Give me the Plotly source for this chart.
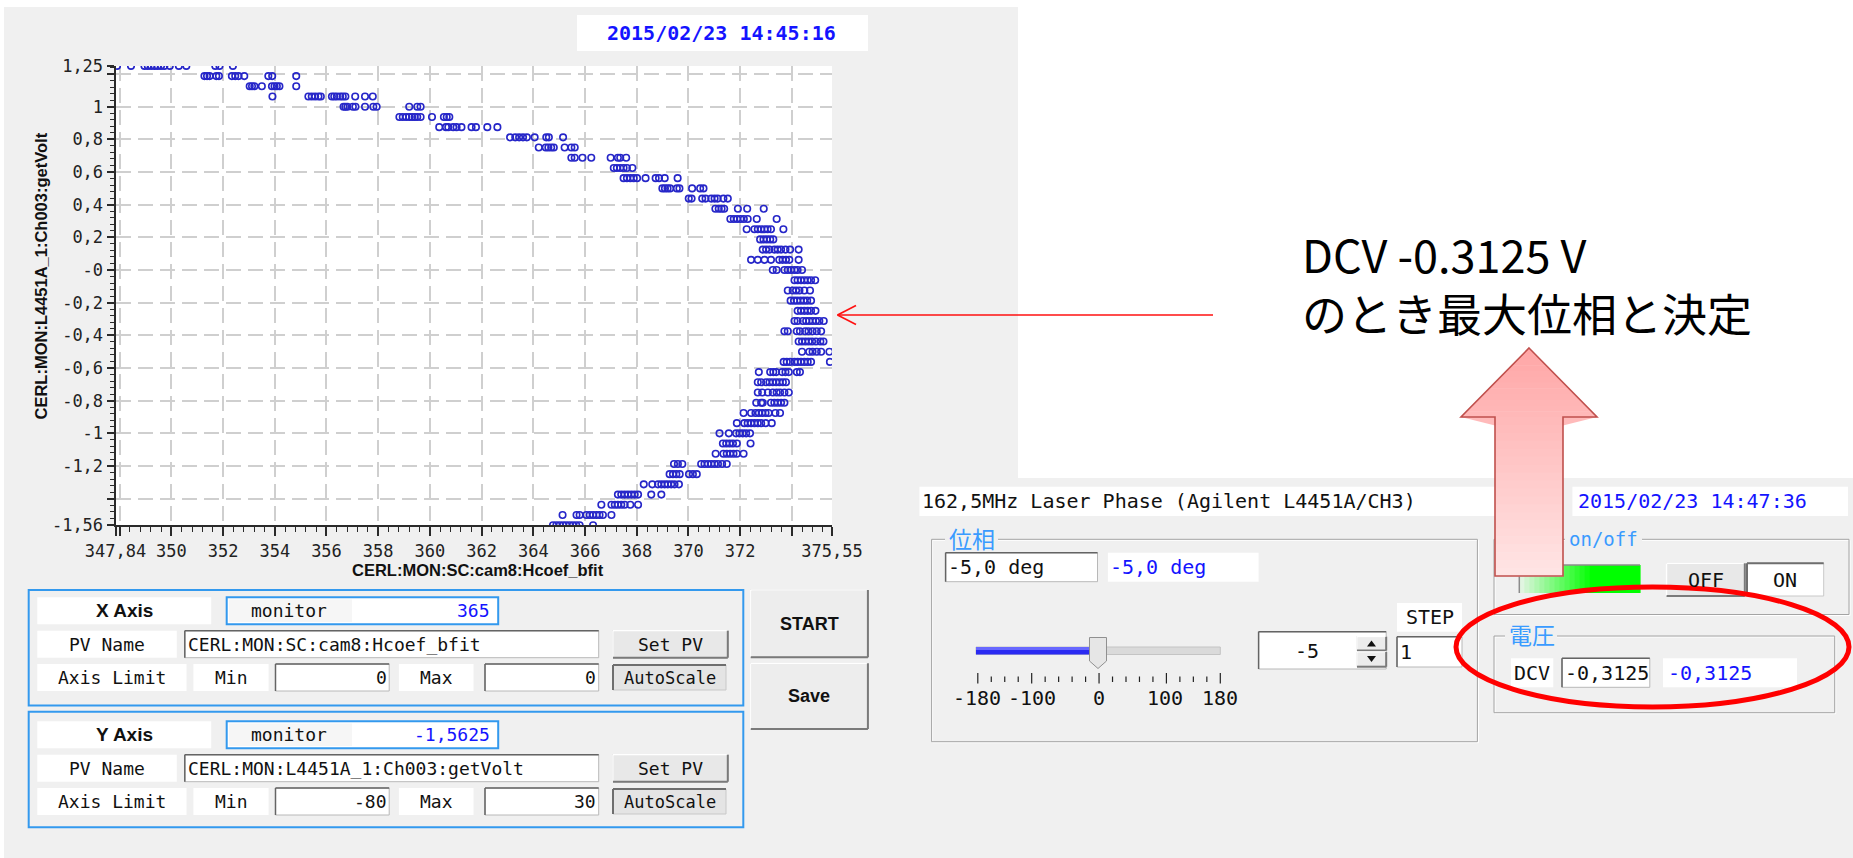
import plotly.graph_objects as go

W, H = 1853, 858
MONO = "DejaVu Sans Mono"
SANS = "Liberation Sans, Arial"
JP = "Noto Sans CJK JP"
GRAY = "#f0f0f0"
VALUE_BLUE = "#1414ff"
FRAME_BLUE = "#3399ee"
LABEL_BLUE = "#3a9bff"

# ---------------- scan data: Hcoef_bfit readings at each DCV step ----------------
volt_upper = [1.25, 1.1875, 1.125, 1.0625, 1.0, 0.9375, 0.875, 0.8125,
              0.75, 0.6875, 0.625, 0.5625, 0.5, 0.4375, 0.375, 0.3125]
hcoef_upper = [
    [347.90, 348.44, 348.96, 349.09, 349.22, 349.35, 349.47, 349.60, 349.73, 349.94, 350.29, 350.58, 351.70, 351.86, 352.38],
    [351.28, 351.38, 351.48, 351.74, 351.84, 352.34, 352.47, 352.60, 352.82, 353.75, 353.90, 354.83],
    [353.03, 353.12, 353.21, 353.50, 353.89, 353.99, 354.08, 354.18, 354.83],
    [353.91, 355.30, 355.43, 355.56, 355.69, 355.78, 356.21, 356.30, 356.40, 356.53, 356.63, 356.73, 357.11, 357.49, 357.79],
    [356.66, 356.73, 356.81, 357.02, 357.12, 357.49, 357.81, 357.94, 359.20, 359.51, 359.64],
    [358.82, 358.95, 359.08, 359.20, 359.31, 359.41, 359.51, 359.64, 360.08, 360.54, 360.65, 360.75],
    [360.36, 360.62, 360.71, 360.90, 361.03, 361.22, 361.61, 361.78, 362.22, 362.61],
    [363.10, 363.30, 363.45, 363.60, 363.75, 364.05, 364.50, 364.60, 365.15],
    [364.21, 364.48, 364.58, 364.69, 364.79, 365.21, 365.47, 365.60],
    [365.47, 365.60, 365.90, 366.24, 366.99, 367.27, 367.36, 367.59],
    [367.11, 367.23, 367.36, 367.49, 367.62, 367.83],
    [367.49, 367.62, 367.75, 367.88, 368.01, 368.34, 368.73, 368.86, 369.08, 369.58],
    [368.99, 369.09, 369.19, 369.29, 369.55, 369.65, 370.14, 370.45, 370.58],
    [370.01, 370.12, 370.53, 370.66, 370.88, 371.01, 371.13, 371.35, 371.52],
    [371.04, 371.17, 371.28, 371.38, 371.91, 372.27, 372.91],
    [371.62, 371.75, 371.88, 372.01, 372.14, 372.29, 372.64, 373.41],
]

volt_middle = [0.25, 0.1875, 0.125, 0.0625, 0.0, -0.0625, -0.125, -0.1875,
               -0.25, -0.3125, -0.375, -0.4375, -0.5, -0.5625]
hcoef_middle = [
    [372.25, 372.55, 372.68, 372.81, 372.94, 373.06, 373.19, 373.67],
    [372.77, 372.90, 373.03, 373.16, 373.28],
    [372.87, 373.00, 373.13, 373.32, 373.45, 373.58, 373.75, 373.93, 374.26],
    [372.42, 372.68, 372.94, 373.19, 373.51, 373.64, 373.77, 373.90, 374.26],
    [373.26, 373.41, 373.71, 373.84, 373.97, 374.10, 374.22, 374.39],
    [374.10, 374.22, 374.35, 374.48, 374.61, 374.74, 374.90],
    [373.84, 374.03, 374.16, 374.29, 374.48, 374.70],
    [373.95, 374.08, 374.20, 374.33, 374.46, 374.59, 374.74],
    [374.22, 374.35, 374.48, 374.61, 374.74, 374.91],
    [374.10, 374.22, 374.42, 374.55, 374.67, 374.80, 374.93, 375.06, 375.23],
    [373.71, 373.84, 374.19, 374.31, 374.51, 374.64, 374.80, 374.96, 375.13],
    [374.26, 374.39, 374.52, 374.65, 374.78, 374.93, 375.10, 375.22],
    [374.39, 374.67, 374.80, 374.96, 375.13, 375.45],
    [373.68, 373.80, 373.93, 374.10, 374.22, 374.35, 374.48, 374.61, 374.74, 375.47],
]

volt_lower = [-0.625, -0.6875, -0.75, -0.8125, -0.875, -0.9375, -1.0, -1.0625,
              -1.125, -1.1875, -1.25, -1.3125, -1.375, -1.4375, -1.5, -1.5625]
hcoef_lower = [
    [372.72, 373.16, 373.28, 373.39, 373.62, 373.75, 373.88, 374.19, 374.31],
    [372.68, 372.81, 373.00, 373.13, 373.26, 373.39, 373.52, 373.65, 373.77],
    [372.68, 372.85, 373.07, 373.26, 373.41, 373.54, 373.71, 373.88],
    [372.62, 372.81, 372.87, 373.19, 373.32, 373.45, 373.58, 373.71],
    [372.13, 372.42, 372.59, 372.72, 372.85, 372.98, 373.10, 373.36, 373.54],
    [371.87, 372.16, 372.29, 372.42, 372.55, 372.68, 372.81, 372.98, 373.22],
    [371.20, 371.56, 371.84, 371.97, 372.10, 372.23, 372.38],
    [371.33, 371.46, 371.59, 371.72, 371.87, 372.40],
    [371.05, 371.35, 371.48, 371.61, 371.74, 371.87, 372.13],
    [369.44, 369.59, 369.76, 370.49, 370.62, 370.75, 370.88, 371.01, 371.14, 371.30, 371.48],
    [369.27, 369.40, 369.53, 369.66, 370.02, 370.17, 370.32],
    [368.27, 368.60, 368.82, 368.95, 369.08, 369.20, 369.33, 369.46, 369.63],
    [367.27, 367.40, 367.53, 367.66, 367.79, 367.92, 368.05, 368.56, 368.95],
    [366.63, 367.02, 367.15, 367.27, 367.40, 367.53, 367.75, 368.05],
    [365.13, 365.67, 365.79, 366.05, 366.18, 366.31, 366.44, 366.56, 366.69, 367.02],
    [364.76, 364.89, 365.02, 365.15, 365.27, 365.40, 365.53, 365.66, 365.79, 366.31],
]

x_range = [347.84, 375.55]
y_range = [-1.5625, 1.25]
x_tick_vals = [347.84, 348, 350, 352, 354, 356, 358, 360, 362, 364, 366, 368, 370, 372, 374, 375.55]
x_tick_text = ["347,84", "", "350", "352", "354", "356", "358", "360", "362", "364",
               "366", "368", "370", "372", "", "375,55"]
y_tick_vals = [1.25, 1.2, 1.0, 0.8, 0.6, 0.4, 0.2, 0.0, -0.2, -0.4, -0.6, -0.8, -1.0, -1.2, -1.4, -1.5625]
y_tick_text = ["1,25", "", "1", "0,8", "0,6", "0,4", "0,2", "-0", "-0,2", "-0,4", "-0,6", "-0,8",
               "-1", "-1,2", "", "-1,56"]

# ---------------- panel readouts ----------------
x_monitor, y_monitor = "365", "-1,5625"
x_pv, y_pv = "CERL:MON:SC:cam8:Hcoef_bfit", "CERL:MON:L4451A_1:Ch003:getVolt"
x_limits, y_limits = ("0", "0"), ("-80", "30")
stamp_scan, stamp_phase = "2015/02/23 14:45:16", "2015/02/23 14:47:36"
phase_set, phase_step, dcv_value = "-5,0 deg", "1", "-0,3125"
slider_labels = ["-180", "-100", "0", "100", "180"]
note_lines = ["DCV -0.3125 V", "のとき最大位相と決定"]


# ---------------- helpers in window pixels ----------------
def X(v):
    return v / W


def Y(v):
    return 1 - v / H


shapes, notes = [], []


def box(x0, y0, x1, y1, fill=None, line=None, width=1, layer="above"):
    shapes.append(dict(type="rect", xref="paper", yref="paper",
                       x0=X(x0), x1=X(x1), y0=Y(y1), y1=Y(y0),
                       fillcolor=fill or "rgba(0,0,0,0)",
                       line=dict(color=line or "rgba(0,0,0,0)", width=width if line else 0),
                       layer=layer))


def seg(x0, y0, x1, y1, color, width=1, layer="above"):
    shapes.append(dict(type="line", xref="paper", yref="paper",
                       x0=X(x0), x1=X(x1), y0=Y(y0), y1=Y(y1),
                       line=dict(color=color, width=width), layer=layer))


def poly(pts, fill, line=None, width=1, layer="above"):
    d = "M " + " L ".join(f"{X(a):.6f},{Y(b):.6f}" for a, b in pts) + " Z"
    shapes.append(dict(type="path", xref="paper", yref="paper", path=d,
                       fillcolor=fill or "rgba(0,0,0,0)",
                       line=dict(color=line or "rgba(0,0,0,0)", width=width if line else 0),
                       layer=layer))


def text(x, y, s, size=18, color="#111", family=MONO, anchor="left", angle=0):
    notes.append(dict(xref="paper", yref="paper", x=X(x), y=Y(y), text=s,
                      showarrow=False, xanchor=anchor, yanchor="middle", textangle=angle,
                      align=anchor if anchor != "center" else "center",
                      font=dict(family=family, size=size, color=color)))


def field(x0, y0, x1, y1):
    box(x0, y0, x1, y1, fill="white", line="#b8b8b8")
    seg(x0, y0, x1, y0, "#646464", 1.5)
    seg(x0, y0, x0, y1, "#646464", 1.5)


def button(x0, y0, x1, y1, fill="#e8e8e8"):
    box(x0, y0, x1, y1, fill=fill, line="#b0b0b0")
    seg(x0, y0, x1, y0, "white", 1.5)
    seg(x0, y0, x0, y1, "white", 1.5)
    seg(x0, y1, x1, y1, "#7a7a7a", 2)
    seg(x1, y0, x1, y1, "#7a7a7a", 2)


def pressed(x0, y0, x1, y1, fill="#e4e4e4"):
    box(x0, y0, x1, y1, fill=fill, line="#c8c8c8")
    seg(x0, y0, x1, y0, "#6e6e6e", 2)
    seg(x0, y0, x0, y1, "#6e6e6e", 2)


def group(x0, y0, x1, y1, gap):
    box(x0 + 1, y0 + 1, x1 + 1, y1 + 1, line="white")
    box(x0, y0, x1, y1, line="#a4a4a4")
    box(gap[0], y0 - 3, gap[1], y0 + 3, fill=GRAY)


# ---------------- backgrounds ----------------
box(4, 7, 1018, 858, fill=GRAY, layer="below")          # scan window
box(910, 478, 1853, 858, fill=GRAY, layer="below")      # laser phase window
plot_l, plot_r, plot_t, plot_b = 115.5, 832, 65.9, 525.2
box(plot_l, plot_t, plot_r, plot_b, fill="white", layer="below")

# scan window: timestamp
box(577, 15, 868, 51, fill="white")
text(721, 33, f"<b>{stamp_scan}</b>", 20, VALUE_BLUE, anchor="center")

# axis titles
text(478, 570, f"<b>{x_pv}</b>", 16.5, "#111", SANS, anchor="center")
text(40.5, 276, f"<b>{y_pv}</b>", 16.5, "#111", SANS, anchor="center", angle=-90)

# X / Y axis control panels
for dy, name, mon, pv, lim in [(0, "X Axis", x_monitor, x_pv, x_limits),
                               (124, "Y Axis", y_monitor, y_pv, y_limits)]:
    gy = 590 if dy == 0 else 711.7
    box(28.7, gy, 743.3, gy + 115.5, line=FRAME_BLUE, width=2)
    r1, r2, r3 = 610.8 + dy, 644.2 + dy, 677.5 + dy
    box(37.3, 597.3 + dy, 211.2, 624.3 + dy, fill="white")
    text(124, r1, f"<b>{name}</b>", 19, "#111", SANS, anchor="center")
    box(226.7, 597.3 + dy, 498.2, 624.3 + dy, fill="white", line=FRAME_BLUE, width=2)
    box(229, 599.5 + dy, 352, 622 + dy, fill="#f6f6f6")
    text(289, r1, "monitor", 18, anchor="center")
    text(492, r1, mon, 18, VALUE_BLUE, anchor="right")
    box(37.3, 630.7 + dy, 176.8, 657.7 + dy, fill="white")
    text(107, r2, "PV Name", 18, anchor="center")
    field(184.8, 630.7 + dy, 598.7, 657.7 + dy)
    text(186, r2, pv, 18)
    button(613, 630.7 + dy, 727.8, 657.7 + dy)
    text(670.4, r2, "Set PV", 18, anchor="center")
    box(37.3, 664 + dy, 186.5, 691 + dy, fill="white")
    text(112, r3, "Axis Limit", 18, anchor="center")
    box(193.4, 664 + dy, 268.6, 691 + dy, fill="white")
    text(231, r3, "Min", 18, anchor="center")
    field(275.5, 664 + dy, 389.2, 691 + dy)
    text(389, r3, lim[0], 18, anchor="right")
    box(398.9, 664 + dy, 473.5, 691 + dy, fill="white")
    text(436.2, r3, "Max", 18, anchor="center")
    field(485, 664 + dy, 598.7, 691 + dy)
    text(598, r3, lim[1], 18, anchor="right")
    pressed(613, 665 + dy, 726, 690 + dy)
    text(669.5, r3, "AutoScale", 17, anchor="center")

button(750.8, 590, 867.9, 657.3, fill="#ededed")
text(809.4, 623.6, "<b>START</b>", 18, "#111", SANS, anchor="center")
button(750.8, 663.3, 867.9, 729, fill="#ededed")
text(809.4, 696, "<b>Save</b>", 18, "#111", SANS, anchor="center")

# ---------------- laser phase window ----------------
box(919.4, 486.7, 1510, 516, fill="white")
text(920, 501, "162,5MHz Laser Phase (Agilent L4451A/CH3)", 20)
box(1572.4, 486.7, 1848, 516, fill="white")
text(1576, 501, stamp_phase, 20, VALUE_BLUE)

# 位相 group
group(931.6, 539.3, 1477.4, 741.7, (945, 998))
text(947, 538, "位相", 23, LABEL_BLUE, JP)
field(945.6, 552.7, 1097.5, 581.7)
text(946, 567, phase_set, 20)
box(1107.9, 552.7, 1258.6, 581.7, fill="white")
text(1108, 567, phase_set, 20, VALUE_BLUE)

# slider track, filled part and thumb
box(976, 647, 1220.3, 654.5, fill="#dadada", line="#c4c4c4")
box(976, 647, 1090, 654.5, fill="#2a2af2")
box(976, 647, 1090, 650, fill="#6868ff")
poly([(1089.5, 637.5), (1106.5, 637.5), (1106.5, 661), (1098, 668.5), (1089.5, 661)],
     "#e6e6e6", "#909090", 1)
s_lo, s_hi = 977.8, 1220.3
for v in range(-180, 181, 20):
    xt = s_lo + (v + 180) / 360 * (s_hi - s_lo)
    tall = v in (-180, -100, 0, 100, 180)
    seg(xt, 673 if tall else 676.5, xt, 683.5 if tall else 682, "#222", 1.2)
for lab, xc in zip(slider_labels, [977.5, 1032, 1098.6, 1164.7, 1220]):
    text(xc, 698, lab, 20, anchor="center")

# spinner and step
field(1258.6, 631.7, 1386.2, 669)
text(1307, 650.5, "-5", 20, anchor="center")
button(1357, 636.7, 1386.2, 650.5, fill="#ececec")
button(1357, 652, 1386.2, 666.7, fill="#ececec")
poly([(1367, 646.5), (1376, 646.5), (1371.5, 640.5)], "#111")
poly([(1367, 656), (1376, 656), (1371.5, 662)], "#111")
box(1397, 603, 1462, 631.7, fill="white")
text(1430, 617, "STEP", 20, anchor="center")
field(1397, 636.7, 1462, 667)
text(1398, 652, phase_step, 20)

# on/off group
group(1494, 539.3, 1849, 614.5, (1565, 1642))
text(1567, 539, "on/off", 19, LABEL_BLUE)
for i in range(24):
    xa = 1519.3 + i * (1640 - 1519.3) / 24
    xb = 1519.3 + (i + 1) * (1640 - 1519.3) / 24
    t = min(1.0, i / 14)
    col = f"rgb({int(225 * (1 - t))},{int(245 + 10 * t)},{int(225 * (1 - t))})"
    box(xa, 565, xb + 0.6, 593, fill=col)
seg(1519.3, 565, 1640, 565, "#8c8c8c", 1.5)
seg(1519.3, 565, 1519.3, 593, "#8c8c8c", 1.5)
button(1666.6, 563.3, 1744.8, 596)
text(1705.7, 580, "OFF", 20, anchor="center")
pressed(1747, 563.3, 1823.7, 596, fill="white")
text(1785.4, 580, "ON", 20, anchor="center")

# 電圧 group
group(1494, 636, 1834.7, 712.7, (1505, 1557))
text(1507, 634, "電圧", 23, LABEL_BLUE, JP)
box(1511, 658.3, 1553.3, 687.3, fill="white")
text(1532, 673, "DCV", 20, anchor="center")
field(1562, 658.3, 1649.8, 687.3)
text(1563, 673, dcv_value, 20)
box(1663, 658.3, 1797, 687.3, fill="white")
text(1666, 673, dcv_value, 20, VALUE_BLUE)

# ---------------- slide overlay ----------------
text(1300, 283, "<br>".join(note_lines), 45, "#000", JP)

# red pointer to the peak of the scan
seg(1213, 315, 837.5, 315, "#ff1010", 1.6)
seg(837.5, 315, 856, 305.5, "#ff1010", 1.6)
seg(837.5, 315, 856, 324.5, "#ff1010", 1.6)

# pink up arrow with a vertical gradient
tip_x, tip_y, base_y, bot_y, head_hw, shaft_hw = 1529, 348, 417, 576, 68, 34


def half_width(y):
    return head_hw * (y - tip_y) / (base_y - tip_y) if y <= base_y else shaft_hw


edges = [tip_y + (base_y - tip_y) * k / 12 for k in range(12)] + \
        [base_y + (bot_y - base_y) * k / 20 for k in range(21)]
for ya, yb in zip(edges[:-1], edges[1:]):
    f = ((ya + yb) / 2 - tip_y) / (bot_y - tip_y)
    col = f"rgb(255,{int(166 + 64 * f)},{int(166 + 64 * f)})"
    wa = half_width(ya)
    yb2 = yb + 0.6
    wb2 = half_width(min(yb2, base_y)) if ya < base_y else shaft_hw
    poly([(tip_x - wa, ya), (tip_x + wa, ya), (tip_x + wb2, yb2), (tip_x - wb2, yb2)], col)
poly([(tip_x, tip_y), (tip_x + head_hw, base_y), (tip_x + shaft_hw, base_y), (tip_x + shaft_hw, bot_y),
      (tip_x - shaft_hw, bot_y), (tip_x - shaft_hw, base_y), (tip_x - head_hw, base_y)],
     None, "#c0504d", 1.6)

# red ellipse around the DCV readout
shapes.append(dict(type="circle", xref="paper", yref="paper",
                   x0=X(1456), x1=X(1849), y0=Y(707), y1=Y(587),
                   line=dict(color="#ff0000", width=5), fillcolor="rgba(0,0,0,0)", layer="above"))

# ---------------- scatter plot ----------------
xs, ys = [], []
for volts, rows in [(volt_upper, hcoef_upper), (volt_middle, hcoef_middle), (volt_lower, hcoef_lower)]:
    for v, row in zip(volts, rows):
        xs.extend(row)
        ys.extend([v] * len(row))

fig = go.Figure()
fig.add_trace(go.Scatter(
    x=xs, y=ys, mode="markers", hoverinfo="skip", showlegend=False, cliponaxis=True,
    marker=dict(symbol="circle-open", size=6.5, color="#2626c8", line=dict(width=1.6)),
))

axis_common = dict(
    showgrid=True, gridcolor="#cfcfcf", gridwidth=2, griddash="15px,7px",
    showline=True, linecolor="#2a2a2a", linewidth=2, zeroline=False,
    ticks="outside", tickcolor="#2a2a2a", tickwidth=1.5,
    tickfont=dict(family=MONO, size=17, color="#222"),
    tickmode="array", fixedrange=True, mirror=False, automargin=False,
)
fig.update_layout(
    width=W, height=H, autosize=False,
    margin=dict(l=0, r=0, t=0, b=0, pad=0, autoexpand=False),
    paper_bgcolor="white", plot_bgcolor="white",
    showlegend=False, hovermode=False,
    xaxis=dict(domain=[X(plot_l), X(plot_r)], range=x_range, tickvals=x_tick_vals, ticktext=x_tick_text,
               ticklen=9,
               minor=dict(tickmode="linear", tick0=0, dtick=0.4, ticks="outside", ticklen=5,
                          tickwidth=1.2, tickcolor="#2a2a2a", showgrid=False),
               **axis_common),
    yaxis=dict(domain=[Y(plot_b), Y(plot_t)], range=y_range, tickvals=y_tick_vals, ticktext=y_tick_text,
               ticklen=7,
               minor=dict(tickmode="linear", tick0=0, dtick=0.04, ticks="outside", ticklen=4,
                          tickwidth=1.2, tickcolor="#2a2a2a", showgrid=False),
               **axis_common),
    shapes=shapes, annotations=notes,
)

fig.write_html("out.html")
